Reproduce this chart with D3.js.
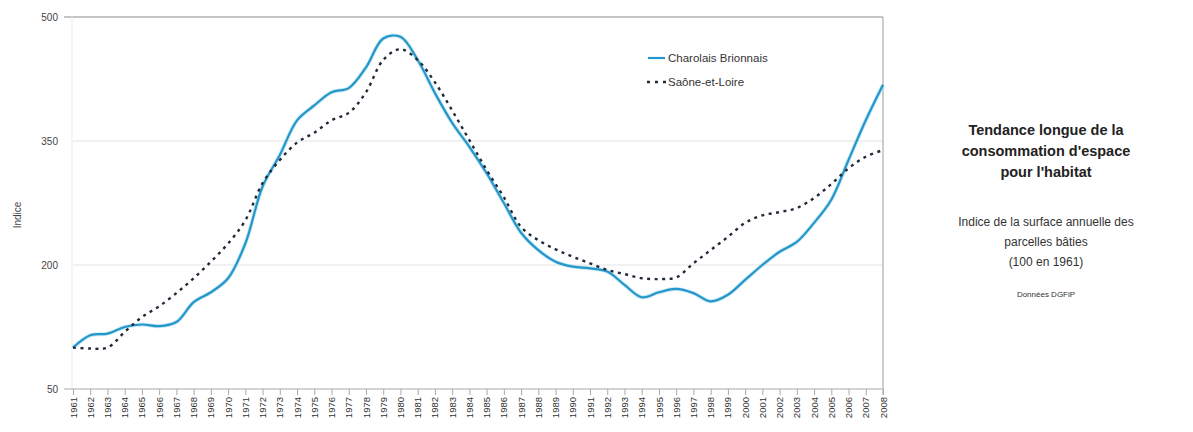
<!DOCTYPE html>
<html><head><meta charset="utf-8">
<script src="https://cdn.jsdelivr.net/npm/d3@7"></script>
<style>body{margin:0;background:#fff;font-family:"Liberation Sans",Arial,sans-serif}</style>
</head><body><svg id="c" width="1193" height="432"></svg>
<script>
const years = d3.range(1961, 2009);
const charolais = [100,115,117,125,128,126,131,155,167,184,226,295,333,375,393,409,414,439,474,476,448,408,372,343,311,275,239,218,204,198,196,192,176,161,167,171,166,156,164,182,200,216,228,251,279,327,375,418];
const saone = [100,99,100,119,137,150,166,184,204,226,254,299,327,348,360,375,384,409,448,461,448,421,387,351,315,282,246,230,219,210,202,194,189,184,183,185,202,218,234,251,260,264,269,281,298,317,331,339];
const yTicks = [50,200,350,500];
const seriesNames = ["Charolais Brionnais","Saône-et-Loire"];
const titleLines = ["Tendance longue de la","consommation d'espace","pour l'habitat"];
const subLines = ["Indice de la surface annuelle des","parcelles bâties","(100 en 1961)"];
const source = "Données DGFiP";

const svg = d3.select("#c");
const x = d3.scaleLinear().domain([1961,2008]).range([73,883]);
const y = d3.scaleLinear().domain([50,500]).range([389,17]);

// gridlines
svg.append("g").selectAll("line").data(yTicks.slice(1,3)).join("line")
  .attr("x1",73).attr("x2",883).attr("y1",d=>y(d)).attr("y2",d=>y(d))
  .attr("stroke","#ececec").attr("stroke-width",1.5);
svg.append("line").attr("x1",64).attr("x2",883).attr("y1",y(500)).attr("y2",y(500))
  .attr("stroke","#c4c4c4").attr("stroke-width",2);
svg.append("line").attr("x1",72).attr("x2",72).attr("y1",y(500)).attr("y2",y(50))
  .attr("stroke","#f0f0f0").attr("stroke-width",1.5);
svg.append("line").attr("x1",883).attr("x2",883).attr("y1",y(500)).attr("y2",y(50)+6)
  .attr("stroke","#bdbdbd").attr("stroke-width",1.5);

// y axis labels
const ya = svg.append("g").attr("transform","translate(60,0)")
  .call(d3.axisLeft(y).tickValues(yTicks).tickSize(0).tickPadding(2));
ya.select(".domain").remove();
ya.selectAll("text").attr("font-size",10).attr("fill","#444").attr("font-family","Liberation Sans, Arial");

// x axis
const xa = svg.append("g").attr("transform",`translate(0,${y(50)})`)
  .call(d3.axisBottom(x).tickValues(years).tickFormat(d3.format("d")).tickSize(6).tickPadding(3));
xa.select(".domain").attr("stroke","#c4c4c4").attr("stroke-width",1.5).attr("d","M64,0H883");
xa.selectAll(".tick line").attr("stroke","#aaa");
xa.selectAll("text").attr("font-size",9.5).attr("fill","#333").attr("font-family","Liberation Sans, Arial")
  .attr("transform","rotate(-90)").attr("text-anchor","end").attr("y",0).attr("x",-8).attr("dy","0.32em");

// Indice label
svg.append("text").attr("transform","translate(21,215) rotate(-90)").attr("text-anchor","middle")
  .attr("font-size",10).attr("fill","#444").text("Indice");

const line = d3.line().x((d,i)=>x(years[i])).y(d=>y(d)).curve(d3.curveCatmullRom.alpha(0.5));
svg.append("path").datum(charolais).attr("d",line).attr("fill","none")
  .attr("stroke","#8fd6f2").attr("stroke-width",4).attr("opacity",0.5);
svg.append("path").datum(charolais).attr("d",line).attr("fill","none")
  .attr("stroke","#2596c8").attr("stroke-width",2.2);
svg.append("path").datum(saone).attr("d",line).attr("fill","none")
  .attr("stroke","#222a3a").attr("stroke-width",2.4).attr("stroke-dasharray","3,4.5");

// legend
const lg = svg.append("g");
lg.append("line").attr("x1",648).attr("x2",665).attr("y1",58).attr("y2",58).attr("stroke","#2596c8").attr("stroke-width",2.2);
lg.append("line").attr("x1",647).attr("x2",666).attr("y1",82).attr("y2",82).attr("stroke","#222a3a").attr("stroke-width",2.4).attr("stroke-dasharray","3,5");
lg.selectAll("text").data(seriesNames).join("text").attr("x",668).attr("y",(d,i)=>62+i*24)
  .attr("font-size",11.5).attr("fill","#333").text(d=>d);

// right side text
const cx = 1046;
svg.append("g").selectAll("text").data(titleLines).join("text").attr("x",cx).attr("y",(d,i)=>135+i*21)
  .attr("text-anchor","middle").attr("font-size",14.5).attr("font-weight","bold").attr("fill","#222").text(d=>d);
svg.append("g").selectAll("text").data(subLines).join("text").attr("x",cx).attr("y",(d,i)=>226+i*20)
  .attr("text-anchor","middle").attr("font-size",12).attr("fill","#333").text(d=>d);
svg.append("text").attr("x",cx).attr("y",297).attr("text-anchor","middle").attr("font-size",8).attr("fill","#333").text(source);
</script></body></html>
